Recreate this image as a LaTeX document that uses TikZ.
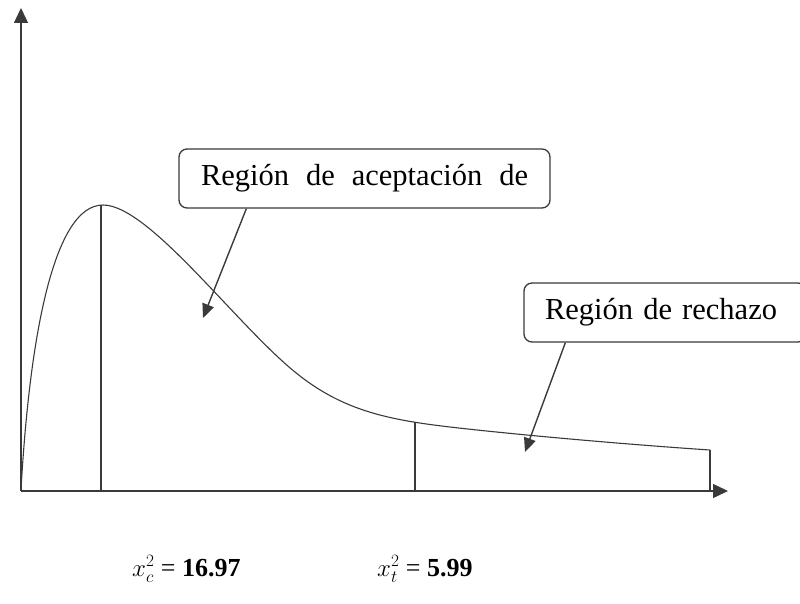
\documentclass[tikz,border=0pt]{standalone}
\usepackage{fontspec}
\setmainfont{Liberation Serif}
\usetikzlibrary{arrows.meta}
\definecolor{ln}{HTML}{3A3A3A}
\tikzset{
  axis/.style={draw=ln, line width=1.4pt, -{Triangle[length=15pt,width=14pt]}},
  callout/.style={draw=ln, line width=1.4pt, -{Triangle[length=14pt,width=12pt]}},
  curve/.style={draw=ln, line width=1.1pt},
  mark line/.style={draw=ln, line width=1.2pt},
  box/.style={draw=ln, line width=1.3pt, rounded corners=8pt, fill=white, inner sep=0pt,
    font=\fontsize{30.5}{36}\selectfont},
  valuelbl/.style={font=\fontsize{26}{31}\selectfont, inner sep=0pt, anchor=base west}
}
\begin{document}
\begin{tikzpicture}[x=1pt, y=-1pt]
\useasboundingbox (0,0) rectangle (800,604);
\clip (0,0) rectangle (800,604);
% axes
\coordinate (O) at (21,491);
\coordinate (ytip) at (21,8);
\coordinate (xtip) at (728,491);
\draw[axis] (O) -- (ytip);
\draw[axis] (O) -- (xtip);
% curve
\draw[curve] (21,490) .. controls (30,330) and (55,205) .. (103,205)
  .. controls (150,205) and (240,330) .. (300,376)
  .. controls (345,411) and (390,420) .. (450,427)
  .. controls (510,434) and (620,444) .. (710,450);
% vertical lines
\coordinate (p1) at (101,205);
\coordinate (p2) at (415,422);
\coordinate (p3) at (710,450);
\draw[mark line] (p1) -- (p1 |- O);
\draw[mark line] (p2) -- (p2 |- O);
\draw[mark line] (p3) -- (p3 |- O);
% callout boxes
\node[box, minimum width=371pt, minimum height=59pt] (acc) at (364.5,178.5)
  {\makebox[327pt][s]{Región de aceptación de}};
\node[box, minimum width=282pt, minimum height=59pt, text width=240pt, align=left] (rej) at (665,312.5)
  {Región de rechazo};
\coordinate (t1) at (203,318);
\coordinate (t2) at (525,452);
\draw[callout] ([xshift=68pt]acc.south west) -- (t1);
\draw[callout] ([xshift=42pt]rej.south west) -- (t2);
% values
\node[valuelbl] (xc) at (132,576) {$x_c^2$ = \textbf{16.97}};
\node[valuelbl] (xt) at (377,576) {$x_t^2$ = \textbf{5.99}};
\end{tikzpicture}
\end{document}
